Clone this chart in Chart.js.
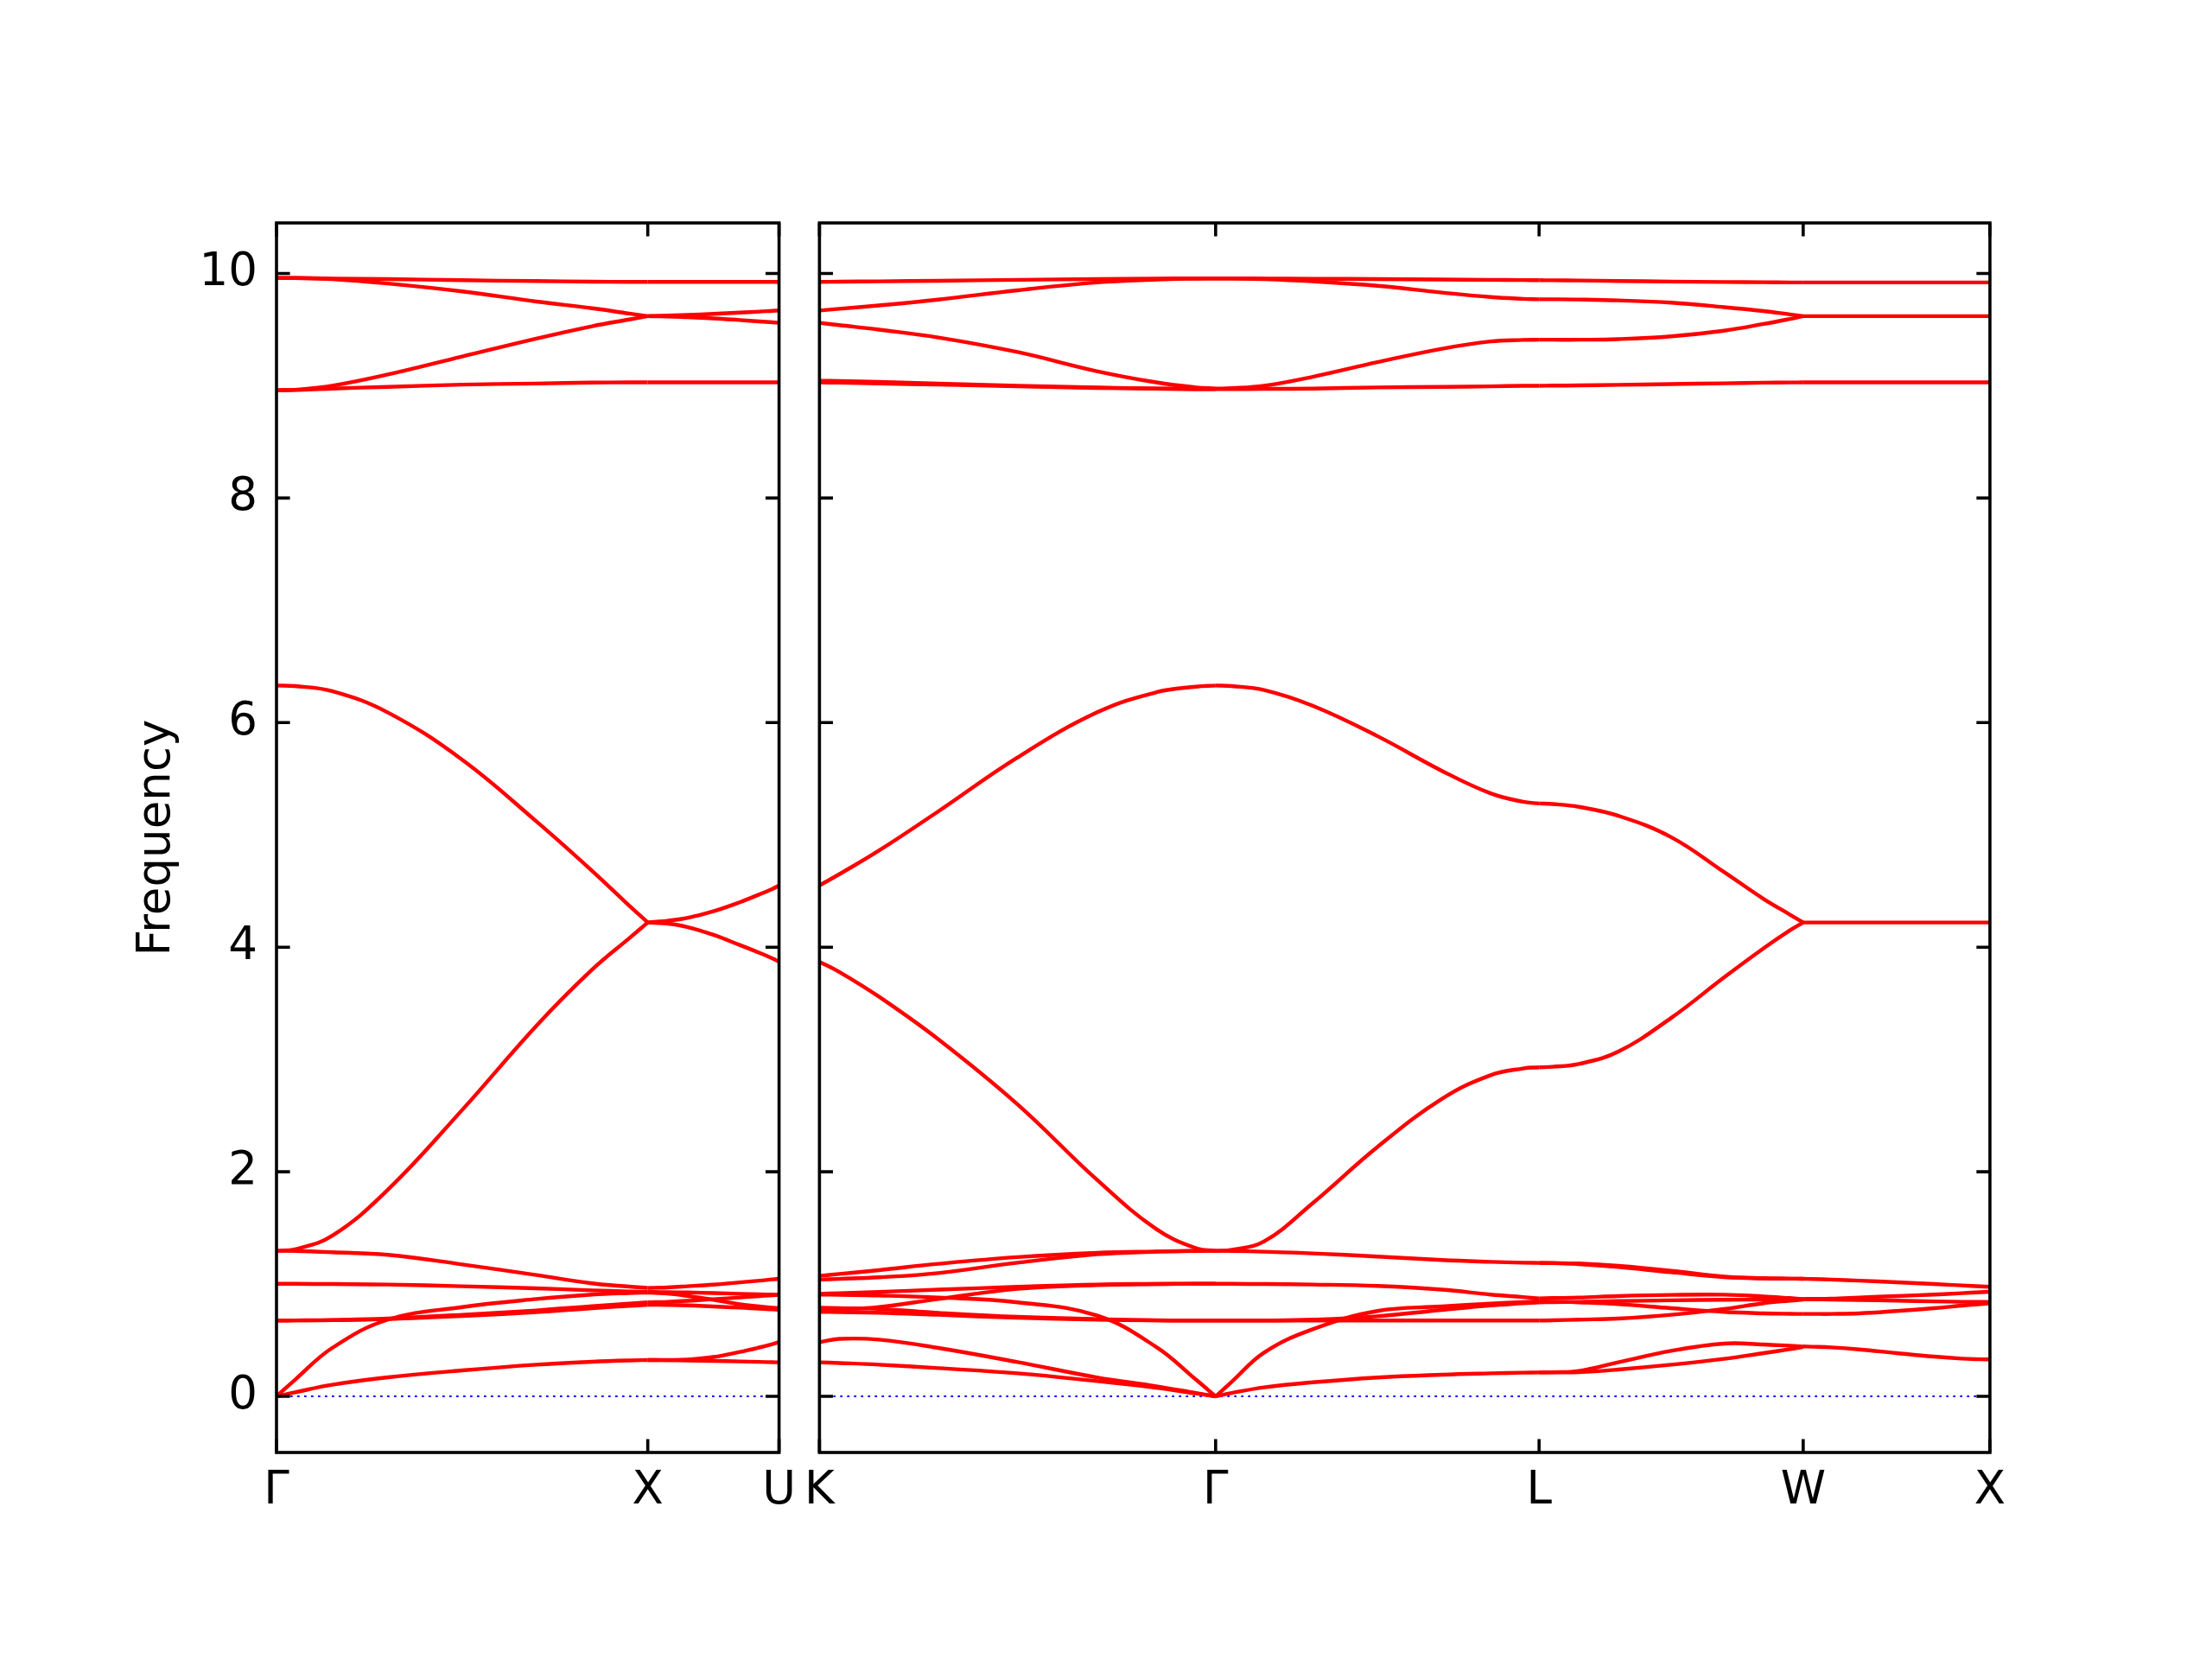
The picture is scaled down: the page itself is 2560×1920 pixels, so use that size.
<!DOCTYPE html>
<html><head><meta charset="utf-8">
<script src="https://cdn.jsdelivr.net/npm/chart.js@4"></script>
<style>
html,body{margin:0;padding:0;background:#fff;}
#wrap{position:relative;width:2560px;height:1920px;background:#fff;overflow:hidden;}
.panel{position:absolute;top:0;height:1920px;}
</style></head><body>
<div id="wrap">
 <div class="panel" style="left:0;width:934px;"><canvas id="cl"></canvas></div>
 <div class="panel" style="left:918px;width:1425px;"><canvas id="cr"></canvas></div>
</div>
<script>
// ---------- data ----------
const yTicks = [0, 2, 4, 6, 8, 10];
const yMin = -0.5, yMax = 10.45;
const yTitle = 'Frequency';
const leftLabels = ['Γ', 'X', 'U'];
const leftPos = [0, 1.0, 1.3536];
const rightLabels = ['K', 'Γ', 'L', 'W', 'X'];
const rightPos = [0, 1.0607, 1.9267, 2.6338, 3.1338];
// sample fractions along each path segment
const fracs = [0, 0.05, 0.15, 0.3, 0.5, 0.7, 0.85, 0.95, 1];

// Γ -> X
const bandsGX = [
  [9.96, 9.959, 9.955, 9.95, 9.94, 9.932, 9.927, 9.925, 9.925],
  [9.96, 9.959, 9.95, 9.91, 9.84, 9.75, 9.69, 9.643, 9.62],
  [8.96, 8.964, 9.00, 9.10, 9.26, 9.42, 9.53, 9.59, 9.62],
  [8.96, 8.962, 8.975, 8.99, 9.01, 9.02, 9.028, 9.03, 9.03],
  [6.33, 6.325, 6.28, 6.09, 5.67, 5.12, 4.68, 4.37, 4.22],
  [1.296, 1.31, 1.43, 1.84, 2.55, 3.3, 3.8, 4.08, 4.22],
  [1.296, 1.295, 1.283, 1.26, 1.175, 1.08, 1.006, 0.977, 0.965],
  [1.003, 1.002, 1.0, 0.996, 0.98, 0.962, 0.944, 0.934, 0.929],
  [0.675, 0.676, 0.68, 0.693, 0.726, 0.765, 0.803, 0.826, 0.837],
  [0.675, 0.676, 0.678, 0.688, 0.715, 0.75, 0.785, 0.805, 0.815],
  [0, 0.148, 0.431, 0.683, 0.795, 0.867, 0.906, 0.92, 0.924],
  [0, 0.036, 0.103, 0.169, 0.231, 0.282, 0.308, 0.32, 0.323]
];
// X -> U
const bandsXU = [
  [9.925, 9.925, 9.925, 9.925, 9.925, 9.925, 9.925, 9.925, 9.925],
  [9.62, 9.619, 9.617, 9.61, 9.60, 9.585, 9.573, 9.565, 9.56],
  [9.62, 9.622, 9.625, 9.63, 9.64, 9.652, 9.66, 9.667, 9.67],
  [9.03, 9.03, 9.03, 9.03, 9.03, 9.03, 9.03, 9.03, 9.03],
  [4.22, 4.225, 4.235, 4.26, 4.32, 4.40, 4.47, 4.52, 4.55],
  [4.22, 4.217, 4.21, 4.18, 4.11, 4.02, 3.95, 3.90, 3.87],
  [0.965, 0.967, 0.97, 0.98, 0.995, 1.015, 1.03, 1.042, 1.047],
  [0.929, 0.929, 0.928, 0.925, 0.92, 0.913, 0.908, 0.906, 0.905],
  [0.924, 0.921, 0.915, 0.895, 0.86, 0.82, 0.80, 0.79, 0.785],
  [0.837, 0.839, 0.842, 0.85, 0.865, 0.88, 0.893, 0.90, 0.903],
  [0.815, 0.815, 0.814, 0.81, 0.80, 0.79, 0.78, 0.775, 0.772],
  [0.323, 0.323, 0.324, 0.328, 0.35, 0.395, 0.435, 0.465, 0.482],
  [0.323, 0.323, 0.322, 0.32, 0.316, 0.311, 0.307, 0.304, 0.303]
];
// K -> Γ
const bandsKG = [
  [9.925, 9.927, 9.93, 9.935, 9.943, 9.95, 9.954, 9.956, 9.956],
  [9.67, 9.685, 9.715, 9.767, 9.85, 9.92, 9.945, 9.954, 9.956],
  [9.56, 9.54, 9.50, 9.43, 9.30, 9.13, 9.03, 8.985, 8.975],
  [9.03, 9.027, 9.02, 9.01, 8.995, 8.98, 8.975, 8.971, 8.97],
  [9.045, 9.042, 9.035, 9.02, 9.0, 8.985, 8.975, 8.971, 8.97],
  [4.55, 4.65, 4.86, 5.21, 5.69, 6.09, 6.27, 6.32, 6.33],
  [3.87, 3.78, 3.56, 3.18, 2.60, 1.93, 1.49, 1.32, 1.296],
  [1.073, 1.09, 1.124, 1.18, 1.24, 1.278, 1.29, 1.295, 1.296],
  [1.04, 1.046, 1.06, 1.098, 1.19, 1.265, 1.288, 1.295, 1.296],
  [0.77, 0.775, 0.795, 0.867, 0.957, 0.99, 1.0, 1.002, 1.003],
  [0.913, 0.918, 0.93, 0.95, 0.975, 0.996, 1.001, 1.003, 1.003],
  [0.906, 0.904, 0.898, 0.88, 0.837, 0.72, 0.44, 0.15, 0],
  [0.79, 0.786, 0.778, 0.744, 0.708, 0.688, 0.677, 0.675, 0.675],
  [0.752, 0.75, 0.745, 0.726, 0.70, 0.683, 0.676, 0.675, 0.675],
  [0.482, 0.512, 0.505, 0.431, 0.305, 0.169, 0.09, 0.03, 0],
  [0.303, 0.297, 0.282, 0.251, 0.205, 0.136, 0.077, 0.026, 0]
];
// Γ -> L
const bandsGL = [
  [9.956, 9.956, 9.955, 9.953, 9.95, 9.946, 9.943, 9.941, 9.94],
  [9.956, 9.955, 9.95, 9.93, 9.89, 9.83, 9.79, 9.774, 9.77],
  [8.975, 8.978, 9.0, 9.08, 9.21, 9.33, 9.395, 9.408, 9.41],
  [8.97, 8.97, 8.972, 8.975, 8.985, 8.99, 8.995, 8.999, 9.0],
  [6.33, 6.325, 6.29, 6.15, 5.88, 5.57, 5.37, 5.295, 5.28],
  [1.296, 1.305, 1.38, 1.72, 2.22, 2.65, 2.86, 2.92, 2.93],
  [1.296, 1.295, 1.288, 1.273, 1.245, 1.214, 1.198, 1.19, 1.188],
  [1.003, 1.002, 1.0, 0.996, 0.983, 0.95, 0.906, 0.884, 0.872],
  [0, 0.13, 0.39, 0.598, 0.76, 0.80, 0.826, 0.84, 0.847],
  [0.675, 0.675, 0.675, 0.683, 0.713, 0.77, 0.81, 0.828, 0.837],
  [0.675, 0.675, 0.675, 0.675, 0.675, 0.675, 0.675, 0.675, 0.675],
  [0, 0.03, 0.08, 0.125, 0.168, 0.193, 0.205, 0.211, 0.213]
];
// L -> W
const bandsLW = [
  [9.94, 9.939, 9.937, 9.933, 9.928, 9.924, 9.922, 9.92, 9.92],
  [9.77, 9.77, 9.768, 9.76, 9.74, 9.70, 9.665, 9.635, 9.62],
  [9.41, 9.41, 9.41, 9.415, 9.44, 9.49, 9.55, 9.595, 9.62],
  [9.0, 9.001, 9.003, 9.008, 9.015, 9.022, 9.027, 9.029, 9.03],
  [5.28, 5.275, 5.25, 5.17, 4.98, 4.67, 4.43, 4.29, 4.22],
  [2.93, 2.935, 2.96, 3.07, 3.37, 3.73, 3.99, 4.15, 4.22],
  [1.188, 1.187, 1.183, 1.162, 1.119, 1.067, 1.052, 1.048, 1.047],
  [1.188, 1.186, 1.178, 1.152, 1.105, 1.062, 1.05, 1.048, 1.047],
  [0.872, 0.875, 0.88, 0.893, 0.903, 0.905, 0.89, 0.875, 0.867],
  [0.847, 0.844, 0.837, 0.821, 0.785, 0.752, 0.739, 0.735, 0.734],
  [0.675, 0.677, 0.683, 0.693, 0.726, 0.778, 0.829, 0.852, 0.862],
  [0.837, 0.839, 0.842, 0.848, 0.855, 0.86, 0.862, 0.864, 0.865],
  [0.213, 0.215, 0.226, 0.303, 0.405, 0.47, 0.462, 0.45, 0.444],
  [0.213, 0.213, 0.215, 0.239, 0.282, 0.334, 0.385, 0.42, 0.44]
];
// W -> X
const bandsWX = [
  [9.92, 9.92, 9.92, 9.92, 9.92, 9.92, 9.92, 9.92, 9.92],
  [9.62, 9.62, 9.62, 9.62, 9.62, 9.62, 9.62, 9.62, 9.62],
  [9.03, 9.03, 9.03, 9.03, 9.03, 9.03, 9.03, 9.03, 9.03],
  [4.22, 4.22, 4.22, 4.22, 4.22, 4.22, 4.22, 4.22, 4.22],
  [1.047, 1.045, 1.04, 1.03, 1.016, 1.0, 0.988, 0.979, 0.975],
  [0.867, 0.868, 0.87, 0.88, 0.893, 0.906, 0.919, 0.927, 0.931],
  [0.865, 0.864, 0.862, 0.858, 0.852, 0.846, 0.842, 0.841, 0.84],
  [0.734, 0.734, 0.734, 0.739, 0.76, 0.785, 0.808, 0.822, 0.829],
  [0.444, 0.442, 0.436, 0.418, 0.385, 0.354, 0.336, 0.33, 0.328]
];

// ---------- chart building ----------
const FONT = 'DejaVu Sans';
const leftSegments = [
  {from: 0, to: 1, bands: bandsGX},
  {from: 1, to: 2, bands: bandsXU}
];
const rightSegments = [
  {from: 0, to: 1, bands: bandsKG},
  {from: 1, to: 2, bands: bandsGL},
  {from: 2, to: 3, bands: bandsLW},
  {from: 3, to: 4, bands: bandsWX}
];

function buildDatasets(segments, pos) {
  const ds = [];
  segments.forEach(seg => {
    const a = pos[seg.from], b = pos[seg.to];
    seg.bands.forEach(band => {
      ds.push({
        data: band.map((v, i) => ({x: a + fracs[i] * (b - a), y: v})),
        borderColor: '#ff0000', borderWidth: 4.4, pointRadius: 0,
        tension: 0.4, fill: false
      });
    });
  });
  ds.push({
    data: [{x: pos[0], y: 0}, {x: pos[pos.length - 1], y: 0}],
    borderColor: '#0000ff', borderWidth: 2.2, borderDash: [2.7, 5.3],
    pointRadius: 0, fill: false
  });
  return ds;
}

const framePlugin = {
  id: 'frame',
  afterDatasetsDraw(chart) {
    const {ctx, chartArea: a, scales: {x, y}} = chart;
    const xPos = chart.options.plugins.frame.xPos;
    const L = 15.6;
    ctx.save();
    ctx.strokeStyle = '#000';
    ctx.lineWidth = 3.6;
    ctx.lineCap = 'butt';
    ctx.beginPath();
    yTicks.forEach(v => {
      const py = y.getPixelForValue(v);
      ctx.moveTo(a.left, py); ctx.lineTo(a.left + L, py);
      ctx.moveTo(a.right, py); ctx.lineTo(a.right - L, py);
    });
    xPos.forEach(v => {
      const px = x.getPixelForValue(v);
      ctx.moveTo(px, a.bottom); ctx.lineTo(px, a.bottom - L);
      ctx.moveTo(px, a.top); ctx.lineTo(px, a.top + L);
    });
    ctx.stroke();
    ctx.strokeRect(a.left, a.top, a.right - a.left, a.bottom - a.top);
    ctx.restore();
  }
};

function makeChart(id, segments, pos, labels, isLeft) {
  const xScale = {
    type: 'linear', min: pos[0], max: pos[pos.length - 1],
    afterBuildTicks: s => { s.ticks = pos.map(v => ({value: v})); },
    afterFit: s => { s.height = 239; },
    grid: {display: false, drawTicks: false},
    border: {display: false},
    ticks: {
      autoSkip: false, maxRotation: 0, minRotation: 0, padding: 13,
      color: '#000', font: {family: FONT, size: 53},
      callback: (v, i) => labels[i]
    }
  };
  const yScale = {
    type: 'linear', min: yMin, max: yMax,
    afterBuildTicks: s => { s.ticks = yTicks.map(v => ({value: v})); },
    grid: {display: false, drawTicks: false},
    border: {display: false},
    display: isLeft,
    ticks: {padding: 22, color: '#000', font: {family: FONT, size: 53},
            callback: v => String(v)},
    title: {display: isLeft, text: yTitle, color: '#000',
            font: {family: FONT, size: 53}, padding: {top: 0, bottom: 0}}
  };
  if (isLeft) yScale.afterFit = s => { s.width = 170; };
  return new Chart(document.getElementById(id), {
    type: 'line',
    data: {datasets: buildDatasets(segments, pos)},
    options: {
      responsive: true, maintainAspectRatio: false, devicePixelRatio: 1,
      animation: false, events: [],
      layout: {padding: isLeft ? {left: 150, right: 30, top: 258, bottom: 0}
                               : {left: 30, right: 40, top: 258, bottom: 0}},
      scales: {x: xScale, y: yScale},
      plugins: {legend: {display: false}, tooltip: {enabled: false},
                frame: {xPos: pos}}
    },
    plugins: [framePlugin]
  });
}

makeChart('cl', leftSegments, leftPos, leftLabels, true);
makeChart('cr', rightSegments, rightPos, rightLabels, false);
</script>
</body></html>
